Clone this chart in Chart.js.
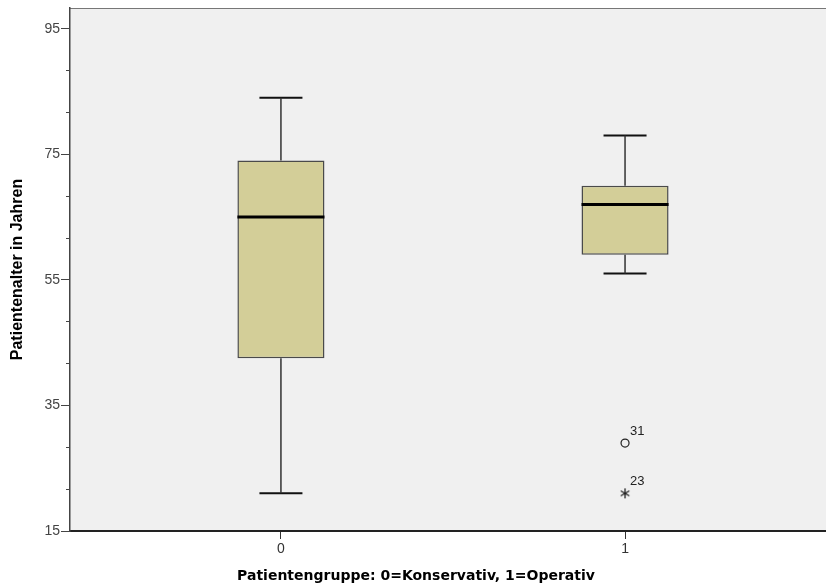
<!DOCTYPE html>
<html>
<head>
<meta charset="utf-8">
<script src="https://cdn.jsdelivr.net/npm/chart.js@4.4.1/dist/chart.umd.min.js"></script>
<style>
  html, body { margin: 0; padding: 0; background: #fff; overflow: hidden; }
  #wrap { width: 832px; height: 587px; }
  canvas { display: block; }
</style>
</head>
<body>
<div id="wrap"><canvas id="myChart"></canvas></div>
<script>
// boxplot values per group
const categories = [0, 1];
const tickLabels = ['0', '1'];
const whiskerLow = [21, 56];
const q1 = [42.5, 59];
const median = [65, 67];
const q3 = [74, 70];
const whiskerHigh = [84, 78];
// outliers: group, value, case number
const outlierGroups = [1];
const outlierValues = [29];
const outlierIds = ['31'];
const extremeGroups = [1];
const extremeValues = [21];
const extremeIds = ['23'];

const yMajorTicks = [15, 35, 55, 75, 95];
const yMinorStep = 20 / 3;

const boxHalf = 0.1265;
const capHalf = 0.0625;
const lineCol = '#333';
const tickFont = {family: '"Liberation Sans", Arial, sans-serif', size: 14, lineHeight: 1};

// asterisk marker for extreme values
const starImg = document.createElement('canvas');
starImg.width = 12; starImg.height = 12;
(function () {
  const c = starImg.getContext('2d');
  c.strokeStyle = '#222';
  c.lineWidth = 1.3;
  c.beginPath();
  for (let k = 0; k < 3; k++) {
    const a = Math.PI / 2 + k * Math.PI / 3;
    c.moveTo(6 + 5 * Math.cos(a), 6 + 5 * Math.sin(a));
    c.lineTo(6 - 5 * Math.cos(a), 6 - 5 * Math.sin(a));
  }
  c.stroke();
})();

let datasets = [];

// boxes as floating bars
datasets.push({
  type: 'bar',
  data: categories.map((c, i) => ({x: c, y: [q1[i], q3[i]]})),
  backgroundColor: '#D3CE98',
  borderColor: '#4a4a4a',
  borderWidth: 1.5,
  borderSkipped: false,
  categoryPercentage: 1,
  barPercentage: boxHalf * 2,
  order: 10
});

function seg(points, width, color, order) {
  datasets.push({
    type: 'scatter',
    data: points,
    showLine: true,
    borderColor: color,
    borderWidth: width,
    pointRadius: 0,
    fill: false,
    order: order
  });
}

categories.forEach((c, i) => {
  // whiskers
  seg([{x: c, y: q3[i]}, {x: c, y: whiskerHigh[i]}], 1.5, lineCol, 5);
  seg([{x: c, y: q1[i]}, {x: c, y: whiskerLow[i]}], 1.5, lineCol, 5);
  // caps
  seg([{x: c - capHalf, y: whiskerHigh[i]}, {x: c + capHalf, y: whiskerHigh[i]}], 2, '#111', 5);
  seg([{x: c - capHalf, y: whiskerLow[i]}, {x: c + capHalf, y: whiskerLow[i]}], 2, '#111', 5);
  // median
  seg([{x: c - boxHalf, y: median[i]}, {x: c + boxHalf, y: median[i]}], 3, '#000', 1);
});

datasets.push({
  type: 'scatter',
  data: outlierGroups.map((g, i) => ({x: g, y: outlierValues[i], id: outlierIds[i]})),
  pointStyle: 'circle',
  pointRadius: 4,
  borderColor: '#222',
  backgroundColor: 'rgba(0,0,0,0)',
  borderWidth: 1.2,
  order: 0
});
datasets.push({
  type: 'scatter',
  data: extremeGroups.map((g, i) => ({x: g, y: extremeValues[i], id: extremeIds[i]})),
  pointStyle: starImg,
  pointRadius: 5,
  order: 0
});

const plotBg = {
  id: 'plotBg',
  beforeDraw(chart) {
    const {ctx, chartArea: a} = chart;
    ctx.save();
    ctx.fillStyle = '#F0F0F0';
    ctx.fillRect(a.left, a.top, a.right - a.left, a.bottom - a.top);
    ctx.strokeStyle = '#777';
    ctx.lineWidth = 1;
    ctx.beginPath();
    ctx.moveTo(a.left, a.top + 0.5);
    ctx.lineTo(a.right, a.top + 0.5);
    ctx.stroke();
    ctx.restore();
  }
};

const caseLabels = {
  id: 'caseLabels',
  afterDatasetsDraw(chart) {
    const {ctx} = chart;
    ctx.save();
    ctx.font = '13px "Liberation Sans", Arial, sans-serif';
    ctx.fillStyle = '#222';
    ctx.textAlign = 'left';
    ctx.textBaseline = 'middle';
    const n = chart.data.datasets.length;
    [n - 2, n - 1].forEach(di => {
      const meta = chart.getDatasetMeta(di);
      meta.data.forEach((pt, j) => {
        const id = chart.data.datasets[di].data[j].id;
        ctx.fillText(id, pt.x + 5, pt.y - 12);
      });
    });
    ctx.restore();
  }
};

function minorTicks() {
  let t = [];
  for (let k = 0; k <= 12; k++) {
    const v = 15 + k * yMinorStep;
    if (!yMajorTicks.some(m => Math.abs(m - v) < 0.01)) t.push({value: v});
  }
  return t;
}

new Chart(document.getElementById('myChart'), {
  type: 'scatter',
  data: {datasets: datasets},
  options: {
    responsive: true,
    maintainAspectRatio: false,
    animation: false,
    layout: {padding: {top: 8, right: 0, left: 0, bottom: 0}},
    plugins: {
      legend: {display: false},
      tooltip: {enabled: false},
      title: {
        display: true,
        position: 'bottom',
        text: 'Patientengruppe: 0=Konservativ, 1=Operativ',
        font: {family: '"DejaVu Sans", Verdana, sans-serif', size: 14, weight: 'bold', lineHeight: 1.2},
        color: '#000',
        padding: {top: 0, bottom: 2}
      }
    },
    scales: {
      x: {
        type: 'linear',
        min: -0.613,
        max: 1.584,
        offset: false,
        afterBuildTicks: (scale) => { scale.ticks = categories.map(v => ({value: v})); },
        afterFit: (scale) => { scale.height = 37.2; },
        ticks: {
          callback: (v) => tickLabels[categories.indexOf(v)],
          font: tickFont,
          color: '#333',
          padding: 3,
          maxRotation: 0
        },
        grid: {display: true, drawOnChartArea: false, drawTicks: true, tickLength: 8, tickColor: '#333', offset: false},
        border: {display: true, color: '#222', width: 2}
      },
      y: {
        type: 'linear',
        min: 15,
        max: 98.3,
        weight: 1,
        afterBuildTicks: (scale) => { scale.ticks = yMajorTicks.map(v => ({value: v})); },
        afterFit: (scale) => { scale.width = 70; },
        ticks: {
          font: tickFont,
          color: '#444',
          padding: 1
        },
        grid: {display: true, drawOnChartArea: false, drawTicks: true, tickLength: 9, tickColor: '#444'},
        border: {display: true, color: '#444', width: 1.5},
        title: {
          display: true,
          text: 'Patientenalter in Jahren',
          font: {family: '"Liberation Sans", Arial, sans-serif', size: 16, weight: 'bold'},
          color: '#000',
          padding: {top: 8, bottom: 0}
        }
      },
      yMinor: {
        type: 'linear',
        position: 'left',
        min: 15,
        max: 98.3,
        weight: 0,
        afterBuildTicks: (scale) => { scale.ticks = minorTicks(); },
        afterFit: (scale) => { scale.width = 0; },
        ticks: {display: false},
        grid: {display: true, drawOnChartArea: false, drawTicks: true, tickLength: 4, tickColor: '#444'},
        border: {display: false}
      }
    }
  },
  plugins: [plotBg, caseLabels]
});
</script>
</body>
</html>
